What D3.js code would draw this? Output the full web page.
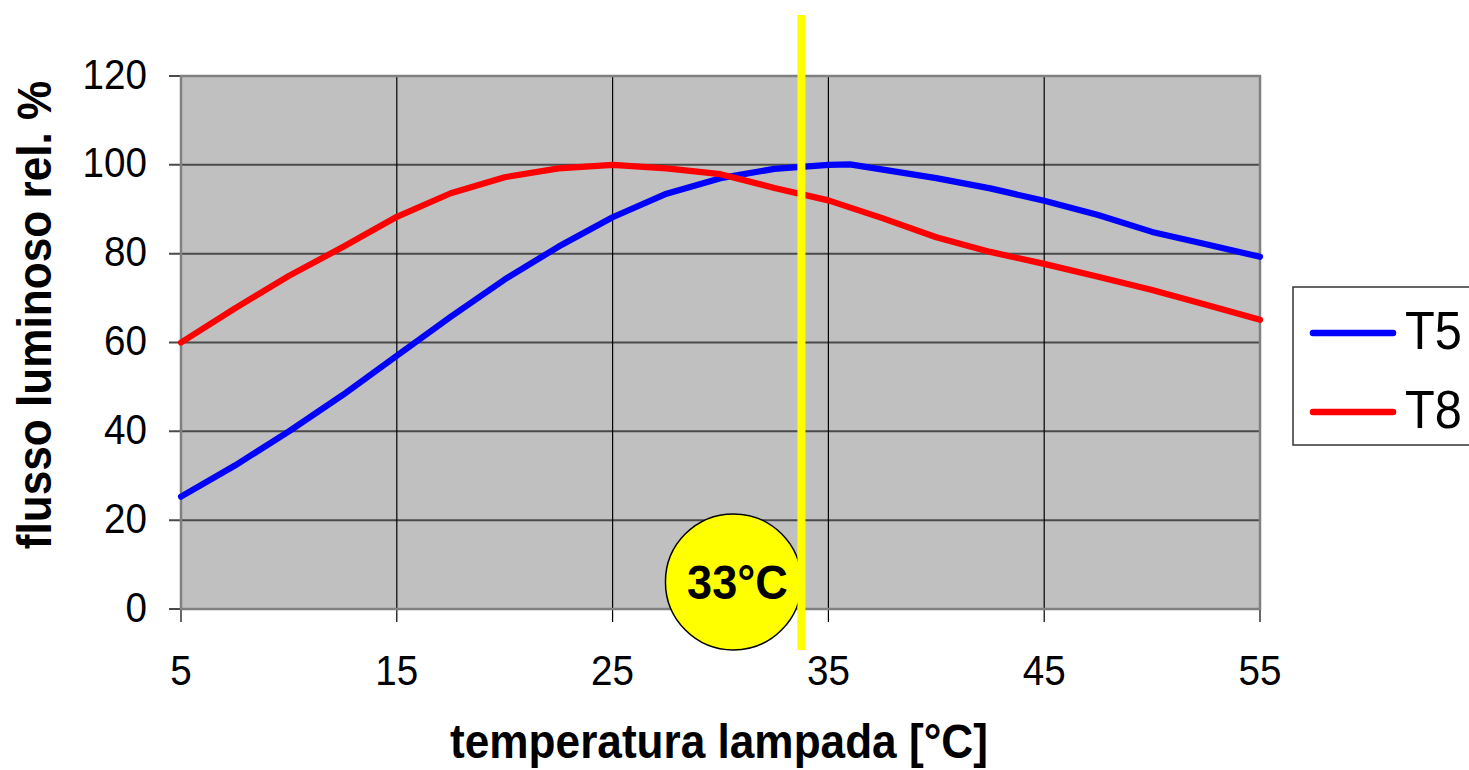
<!DOCTYPE html>
<html>
<head>
<meta charset="utf-8">
<script src="https://cdn.jsdelivr.net/npm/d3@7"></script>
<style>
  body { margin: 0; background: #fff; }
  text { font-family: "Liberation Sans", Arial, sans-serif; }
</style>
</head>
<body>
<div id="chart"></div>
<script>
// values
var t5Temp = [5, 7.5, 10, 12.5, 15, 17.5, 20, 22.5, 25, 27.5, 30, 32.5, 35, 36, 40, 42.5, 45, 47.5, 50, 52.5, 55];
var t5Flux = [25.3, 32.3, 40, 48.2, 57, 65.8, 74.2, 81.6, 88.2, 93.5, 97, 99.1, 100, 100.1, 97, 94.7, 91.9, 88.7, 84.9, 82.1, 79.3];
var t8Temp = [5, 7.5, 10, 12.5, 15, 17.5, 20, 22.5, 25, 27.5, 30, 32.5, 35, 37.5, 40, 42.5, 45, 47.5, 50, 52.5, 55];
var t8Flux = [60, 67.7, 75, 81.5, 88.3, 93.6, 97.2, 99.2, 100, 99.2, 97.9, 94.8, 92, 88, 83.7, 80.4, 77.7, 74.8, 71.8, 68.5, 65.1];
var xTicks = [5, 15, 25, 35, 45, 55];
var yTicks = [0, 20, 40, 60, 80, 100, 120];
var seriesNames = ["T5", "T8"];
var seriesColors = ["#0000ff", "#ff0000"];
var markerTemp = 33.75;   // yellow line
var markerLabel = "33°C";

var width = 1469, height = 770;
var squeeze = 0.92;   // the original text is a bit narrow

var svg = d3.select("#chart").append("svg")
    .attr("width", width)
    .attr("height", height);

var xScale = d3.scaleLinear().domain([5, 55]).range([181, 1260]);
var yScale = d3.scaleLinear().domain([0, 120]).range([609, 76]);

function narrowText(parent, x, y, str, size, bold, anchor, rot) {
    return parent.append("text")
        .attr("transform", "translate(" + x + "," + y + ")" + (rot ? " rotate(" + rot + ")" : "") + " scale(" + squeeze + ",1)")
        .attr("text-anchor", anchor || "middle")
        .attr("dominant-baseline", "central")
        .attr("font-size", size)
        .attr("font-weight", bold ? "bold" : "normal")
        .attr("fill", "#000")
        .text(str);
}

// plot background
svg.append("rect")
    .attr("x", xScale(5)).attr("y", yScale(120))
    .attr("width", xScale(55) - xScale(5))
    .attr("height", yScale(0) - yScale(120))
    .attr("fill", "#c0c0c0");

// horizontal grid
svg.append("g").selectAll("line")
    .data(yTicks)
    .enter().append("line")
    .attr("x1", xScale(5) - 12).attr("x2", xScale(55))
    .attr("y1", function(d){ return yScale(d); })
    .attr("y2", function(d){ return yScale(d); })
    .attr("stroke", "#4a4a4a").attr("stroke-width", 2);

// vertical grid
svg.append("g").selectAll("line")
    .data(xTicks)
    .enter().append("line")
    .attr("x1", function(d){ return xScale(d); })
    .attr("x2", function(d){ return xScale(d); })
    .attr("y1", yScale(120)).attr("y2", yScale(0) + 13)
    .attr("stroke", "#000").attr("stroke-width", 1.2);

// plot frame
svg.append("rect")
    .attr("x", xScale(5)).attr("y", yScale(120))
    .attr("width", xScale(55) - xScale(5))
    .attr("height", yScale(0) - yScale(120))
    .attr("fill", "none")
    .attr("stroke", "#808080").attr("stroke-width", 2.5);

// tick labels
var gy = svg.append("g");
yTicks.forEach(function(d){
    narrowText(gy, 147, yScale(d) - 2, d, 42, false, "end");
});
var gx = svg.append("g");
xTicks.forEach(function(d){
    narrowText(gx, xScale(d), 670, d, 42, false, "middle");
});

// series
var line = d3.line()
    .x(function(d){ return xScale(d[0]); })
    .y(function(d){ return yScale(d[1]); });

var t5Data = t5Temp.map(function(t, i){ return [t, t5Flux[i]]; });
var t8Data = t8Temp.map(function(t, i){ return [t, t8Flux[i]]; });

[t5Data, t8Data].forEach(function(data, i){
    svg.append("path")
        .datum(data)
        .attr("d", line)
        .attr("fill", "none")
        .attr("stroke", seriesColors[i])
        .attr("stroke-width", 6.2)
        .attr("stroke-linejoin", "round")
        .attr("stroke-linecap", "round");
});

// 33°C badge
var cx = xScale(30.6), cy = yScale(6.1);
svg.append("circle")
    .attr("cx", cx).attr("cy", cy).attr("r", 68)
    .attr("fill", "#ffff00").attr("stroke", "#000").attr("stroke-width", 1.5);
narrowText(svg, cx + 4, cy, markerLabel, 49, true, "middle");

// yellow marker line
svg.append("line")
    .attr("x1", xScale(markerTemp)).attr("x2", xScale(markerTemp))
    .attr("y1", 15).attr("y2", 650)
    .attr("stroke", "#ffff00").attr("stroke-width", 8);

// axis titles
narrowText(svg, 719, 741, "temperatura lampada [°C]", 48, true, "middle");
narrowText(svg, 34, 315, "flusso luminoso rel. %", 48, true, "middle", -90);

// legend
var legend = svg.append("g");
legend.append("rect")
    .attr("x", 1293).attr("y", 287)
    .attr("width", 200).attr("height", 158)
    .attr("fill", "#fff").attr("stroke", "#333").attr("stroke-width", 1.5);

seriesNames.forEach(function(name, i){
    var ly = 333 + i * 79;
    legend.append("line")
        .attr("x1", 1313).attr("x2", 1393)
        .attr("y1", ly).attr("y2", ly)
        .attr("stroke", seriesColors[i]).attr("stroke-width", 6.5)
        .attr("stroke-linecap", "round");
    narrowText(legend, 1405, ly - 2, name, 53, false, "start");
});
</script>
</body>
</html>
